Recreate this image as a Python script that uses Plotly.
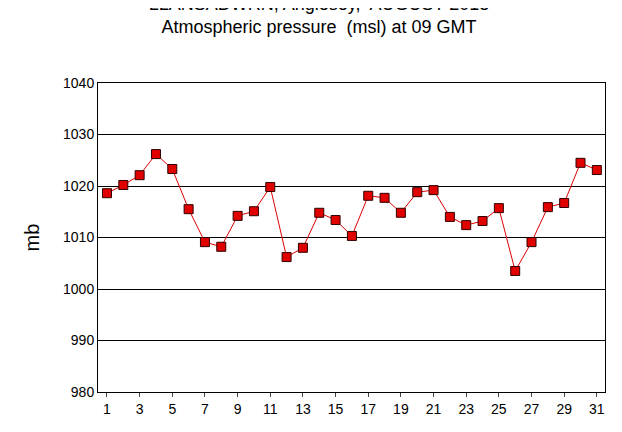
import plotly.graph_objects as go

days = list(range(1, 32))
pressure = [1018.6, 1020.2, 1022.1, 1026.2, 1023.3, 1015.5, 1009.1, 1008.2, 1014.2, 1015.1,
            1019.8, 1006.2, 1008.0, 1014.8, 1013.4, 1010.3, 1018.1, 1017.7, 1014.8, 1018.8,
            1019.2, 1014.0, 1012.4, 1013.2, 1015.7, 1003.5, 1009.1, 1015.9, 1016.7, 1024.5, 1023.1]
x_ticks = list(range(1, 32, 2))
y_ticks = list(range(980, 1041, 10))

fig = go.Figure(go.Scatter(
    x=days, y=pressure, mode="lines+markers",
    line=dict(color="#e00000", width=1),
    marker=dict(symbol="square", size=9, color="#e00000", line=dict(color="#300000", width=1)),
))
fig.update_layout(
    width=622, height=432, paper_bgcolor="white", plot_bgcolor="white",
    margin=dict(l=90, r=25, t=75, b=48), showlegend=False,
    font=dict(family="Arial, Liberation Sans", color="black"),
    title=dict(text="LLANSADWRN, Anglesey,  AUGUST 2018<br>Atmospheric pressure  (msl) at 09 GMT",
               x=0.5, xanchor="center", y=1.0, yanchor="top", pad=dict(t=2), font=dict(size=18)),
)
fig.update_xaxes(range=[0.45, 31.5], tickvals=x_ticks, showgrid=False, showline=True, mirror=True,
                 linecolor="black", linewidth=1, ticks="outside", ticklen=4, tickfont=dict(size=14), zeroline=False)
fig.update_yaxes(range=[980, 1040], tickvals=y_ticks, showgrid=True, gridcolor="black", gridwidth=1,
                 showline=True, mirror=True, linecolor="black", linewidth=1, ticks="",
                 tickfont=dict(size=14), zeroline=False,
                 title=dict(text="mb", font=dict(size=20), standoff=18))
fig.write_html("out.html")
